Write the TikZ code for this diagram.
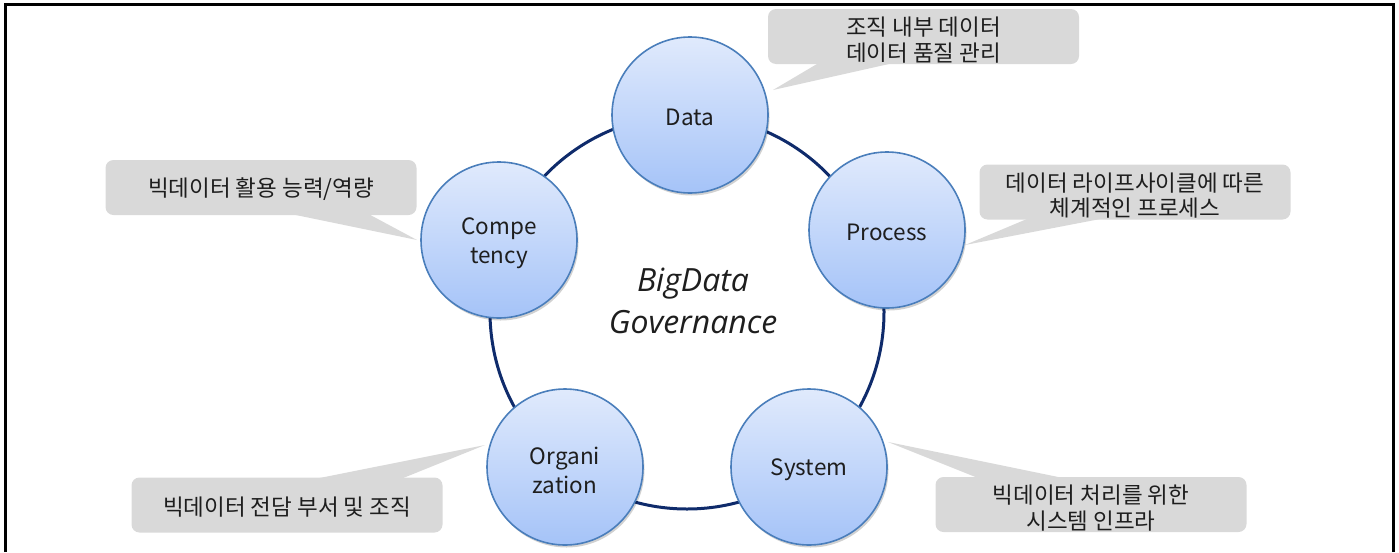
\documentclass[tikz,border=0pt]{standalone}
\usepackage{fontspec}
\setmainfont{Noto Sans CJK KR}
\newfontfamily\govfont{Open Sans}
\usetikzlibrary{shadows}
\definecolor{calloutgray}{HTML}{D9D9D9}
\definecolor{textdark}{HTML}{1E1E1E}
\definecolor{ringblue}{HTML}{0F2B6B}
\definecolor{nodeedge}{HTML}{4A7EBB}
\definecolor{nodetop}{HTML}{E0EAFC}
\definecolor{nodebot}{HTML}{A5C3F8}
\begin{document}
\begin{tikzpicture}[x=1pt,y=-1pt,
  ring/.style={circle, draw=ringblue, line width=3pt, minimum size=394pt, inner sep=0pt},
  bubble/.style={circle, minimum size=156pt, inner sep=0pt, draw=nodeedge, line width=1.6pt,
    top color=nodetop, bottom color=nodebot,
    drop shadow={shadow xshift=1.5pt, shadow yshift=-2.5pt, fill=black, opacity=0.18}},
  btext/.style={align=center, text=textdark, inner sep=0pt,
    font=\fontsize{22.5}{29}\selectfont},
  callout/.style={fill=calloutgray, rounded corners=8pt, inner sep=0pt,
    minimum width=311pt, minimum height=55pt},
  ctext/.style={align=center, text=textdark, inner sep=0pt,
    font=\fontsize{22.5}{25.5}\selectfont},
  pointer/.style={fill=calloutgray}]
\useasboundingbox (0,0) rectangle (1399,552);
% frame
\draw[line width=3pt] (5.5,552) -- (5.5,4.5) -- (1393.5,4.5) -- (1393.5,552);

% callouts
\node[callout] (cData) at (923.5,36.5) {};
\node[ctext] (lData) at ([yshift=-3.5pt]cData.center) {조직 내부 데이터\\데이터 품질 관리};
\coordinate (tData) at (773,90);
\fill[pointer] ([xshift=-103.5pt,yshift=2pt]cData.south) -- ([xshift=-26.5pt,yshift=2pt]cData.south) -- (tData) -- cycle;

\node[callout] (cProc) at (1135,192) {};
\node[ctext] (lProc) at ([yshift=-3.5pt]cProc.center) {데이터 라이프사이클에 따른\\체계적인 프로세스};
\coordinate (tProc) at (965,245);
\fill[pointer] ([xshift=-105pt,yshift=2pt]cProc.south) -- ([xshift=-28pt,yshift=2pt]cProc.south) -- (tProc) -- cycle;

\node[callout] (cComp) at (261,187.5) {};
\node[ctext] (lComp) at ([yshift=-2pt]cComp.center) {빅데이터 활용 능력/역량};
\coordinate (tComp) at (417,240);
\fill[pointer] ([xshift=26pt,yshift=2pt]cComp.south) -- ([xshift=106pt,yshift=2pt]cComp.south) -- (tComp) -- cycle;

\node[callout] (cSys) at (1091,504.5) {};
\node[ctext] (lSys) at ([yshift=-3.5pt]cSys.center) {빅데이터 처리를 위한\\시스템 인프라};
\coordinate (tSys) at (888,442);
\fill[pointer] ([xshift=-111pt,yshift=-2pt]cSys.north) -- ([xshift=-24pt,yshift=-2pt]cSys.north) -- (tSys) -- cycle;

\node[callout] (cOrg) at (287,505) {};
\node[ctext] (lOrg) at ([yshift=-2pt]cOrg.center) {빅데이터 전담 부서 및 조직};
\coordinate (tOrg) at (485,445);
\fill[pointer] ([xshift=26pt,yshift=-2pt]cOrg.north) -- ([xshift=113pt,yshift=-2pt]cOrg.north) -- (tOrg) -- cycle;

% ring
\node[ring] (cycle) at (687,312) {};

% title
\node[font=\govfont\itshape\fontsize{32}{42}\selectfont, align=center, text=textdark] (title) at (693,301) {BigData\\Governance};

% nodes
\node[bubble] (data) at (690,115) {};
\node[btext] (tdata) at ([yshift=-2.5pt]data.center) {Data};
\node[bubble] (proc) at (887,230) {};
\node[btext] (tproc) at ([yshift=-2.5pt]proc.center) {Process};
\node[bubble] (sys) at (809,467) {};
\node[btext] (tsys) at ([yshift=-2.5pt]sys.center) {System};
\node[bubble] (org) at (565,467) {};
\node[btext] (torg) at ([yshift=-3.5pt]org.center) {Organi\\zation};
\node[bubble] (comp) at (499,240) {};
\node[btext] (tcomp) at ([yshift=-3.5pt]comp.center) {Compe\\tency};
\end{tikzpicture}
\end{document}
